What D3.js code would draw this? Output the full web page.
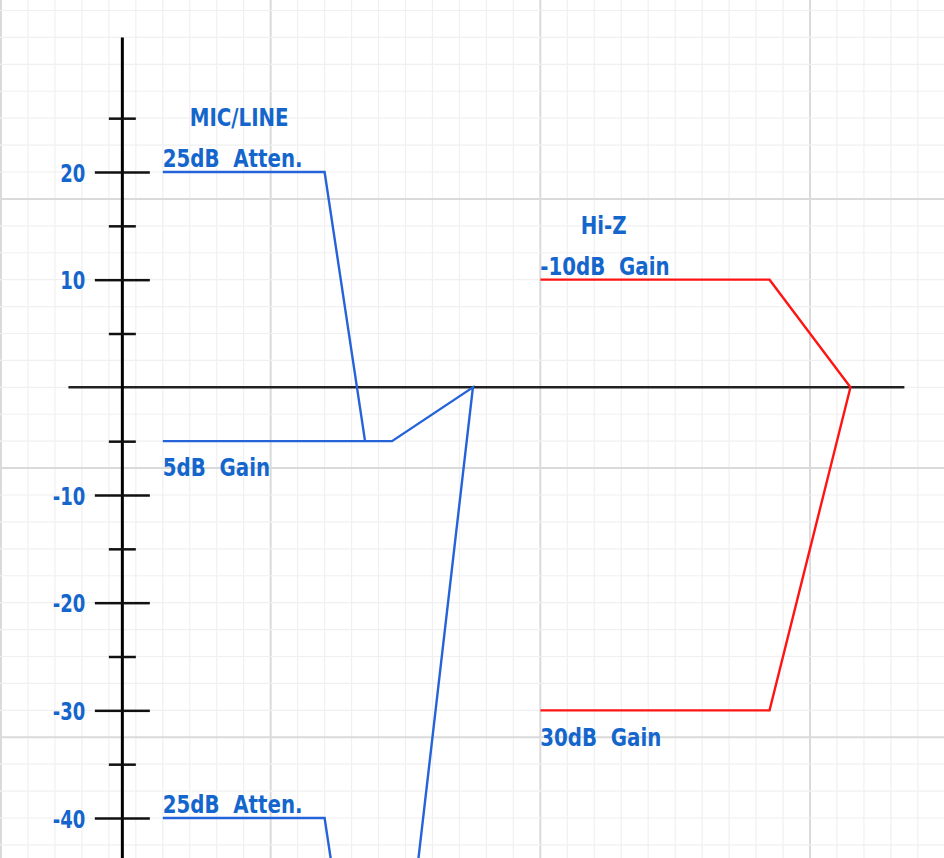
<!DOCTYPE html>
<html><head><meta charset="utf-8">
<script src="https://cdn.jsdelivr.net/npm/d3@7"></script>
<style>
body{margin:0;background:#fff}
svg{display:block}
text{font-family:"DejaVu Sans Condensed","DejaVu Sans",sans-serif;font-stretch:condensed}
</style>
</head><body>
<svg id="chart" width="944" height="858"></svg>
<script>
// ---- data ----
const majorTicks = [20, 10, -10, -20, -30, -40];
const majorTickLabels = ["20", "10", "-10", "-20", "-30", "-40"];
const minorTicks = [25, 15, 5, -5, -15, -25, -35, -45];

// MIC/LINE path (blue): [x, dB]
const micAtten = [[6, 20], [12, 20], [13.5, -5]];
const micGain = [[6, -5], [14.5, -5], [17.5, 0], [14.5, -65]];
const micAttenLower = [[6, -40], [12, -40], [13.5, -65]];
// Hi-Z path (red)
const hiZ = [[20, 10], [28.5, 10], [31.5, 0], [28.5, -30], [20, -30]];

const labelTexts = ["MIC/LINE", "25dB  Atten.", "5dB  Gain", "Hi-Z", "-10dB  Gain", "30dB  Gain", "25dB  Atten."];
const labelX = [7, 6, 6, 21.5, 20, 20, 6];
const labelY = [24.3, 20.45, -8.2, 14.25, 10.45, -33.3, -39.55];

// ---- scales ----
const W = 944, H = 858;
const x = d3.scaleLinear().domain([0, 30]).range([1, 810]);
const y = d3.scaleLinear().domain([20, -40]).range([172, 818]);

const svg = d3.select("#chart");
const BLUE_TEXT = "#1466cc", BLUE_LINE = "#2563d9", RED = "#ff1414";
const FONT = '"DejaVu Sans Condensed","DejaVu Sans",sans-serif';

// ---- grid ----
const g = svg.append("g");
const xGrid = d3.range(0, 36);
const yGrid = d3.range(-20, 16).map(k => k * 2.5);
g.selectAll("line.vx").data(xGrid).join("line")
  .attr("x1", d => x(d)).attr("x2", d => x(d)).attr("y1", 0).attr("y2", H)
  .attr("stroke", d => d % 10 === 0 ? "#dadada" : "#f0f0f0")
  .attr("stroke-width", d => d % 10 === 0 ? 2 : 1.2);
g.selectAll("line.hy").data(yGrid).join("line")
  .attr("y1", d => y(d)).attr("y2", d => y(d)).attr("x1", 0).attr("x2", W)
  .attr("stroke", d => ((d - 17.5) % 25 === 0) ? "#dadada" : "#f0f0f0")
  .attr("stroke-width", d => ((d - 17.5) % 25 === 0) ? 2 : 1.2);

// ---- axes ----
svg.append("line")
  .attr("x1", x(2.5)).attr("x2", x(33.5)).attr("y1", y(0)).attr("y2", y(0))
  .attr("stroke", "#222").attr("stroke-width", 2.5);
svg.append("line")
  .attr("x1", x(4.5)).attr("x2", x(4.5)).attr("y1", y(32.5)).attr("y2", H + 10)
  .attr("stroke", "#000").attr("stroke-width", 3);

function styleAxis(sel) {
  sel.select(".domain").remove();
  sel.selectAll(".tick line").attr("stroke", "#111").attr("stroke-width", 2.5);
}
const majL = d3.axisLeft(y).tickValues(majorTicks).tickSizeInner(27.5).tickSizeOuter(0).tickPadding(0)
  .tickFormat((d, i) => majorTickLabels[i]);
const gL = svg.append("g").attr("transform", `translate(${x(4.5)},0)`).call(majL).call(styleAxis);
gL.selectAll(".tick text").attr("fill", BLUE_TEXT).attr("font-size", 25).attr("font-weight", "bold")
  .attr("x", 0).attr("dy", "0.36em")
  .attr("transform", "translate(-37,0) scale(0.8,1)")
  .style("font-family", FONT);
const majR = d3.axisRight(y).tickValues(majorTicks).tickSizeInner(27.5).tickSizeOuter(0).tickFormat("");
svg.append("g").attr("transform", `translate(${x(4.5)},0)`).call(majR).call(styleAxis);
const minL = d3.axisLeft(y).tickValues(minorTicks).tickSizeInner(13.5).tickSizeOuter(0).tickFormat("");
svg.append("g").attr("transform", `translate(${x(4.5)},0)`).call(minL).call(styleAxis);
const minR = d3.axisRight(y).tickValues(minorTicks).tickSizeInner(13.5).tickSizeOuter(0).tickFormat("");
svg.append("g").attr("transform", `translate(${x(4.5)},0)`).call(minR).call(styleAxis);

// ---- lines ----
const line = d3.line().x(d => x(d[0])).y(d => y(d[1]));
[[micAtten, BLUE_LINE], [micGain, BLUE_LINE], [micAttenLower, BLUE_LINE], [hiZ, RED]].forEach(([data, c]) => {
  svg.append("path").datum(data).attr("d", line)
    .attr("fill", "none").attr("stroke", c).attr("stroke-width", 2.4)
    .attr("stroke-linejoin", "miter");
});

// ---- labels ----
svg.selectAll("text.lbl").data(labelTexts).join("text").attr("class", "lbl")
  .attr("transform", (d, i) => `translate(${x(labelX[i])},${y(labelY[i])}) scale(0.88,1)`)
  .attr("fill", BLUE_TEXT).attr("font-size", 25).attr("font-weight", "bold")
  .style("white-space", "pre").attr("xml:space", "preserve")
  .text(d => d);
</script>
</body></html>
